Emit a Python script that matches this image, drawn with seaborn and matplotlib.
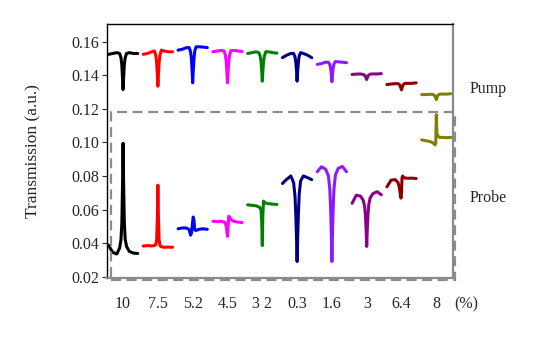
import pandas as pd
import matplotlib
matplotlib.use("Agg")
import matplotlib.pyplot as plt
import seaborn as sns
from matplotlib.patches import Rectangle

# Sample labels (%) under each spectrum, left to right
samples = ["10", "7.5", "5.2", "4.5", "3 2", "0.3", "1.6", "3", "6.4", "8"]
colors = ["#000000", "#ff0000", "#0000ff", "#ff00ff", "#008000",
          "#000080", "#8c1aff", "#8b008b", "#8b0000", "#808000"]

# Detuning axis of every spectrum (in units of sample spacing)
detuning = [-0.42, -0.3, -0.18, -0.1, -0.06, -0.035, -0.015, 0.0,
            0.015, 0.035, 0.06, 0.1, 0.18, 0.3, 0.42]

# Pump transmission, one row per sample
pump_traces = [
    [0.1525, 0.1530, 0.1535, 0.1530, 0.1505, 0.1460, 0.1380, 0.1315, 0.1380, 0.1460, 0.1505, 0.1530, 0.1535, 0.1530, 0.1530],  # 10
    [0.1525, 0.1530, 0.1540, 0.1545, 0.1520, 0.1475, 0.1400, 0.1335, 0.1400, 0.1475, 0.1520, 0.1550, 0.1545, 0.1540, 0.1540],  # 7.5
    [0.1550, 0.1555, 0.1565, 0.1565, 0.1540, 0.1495, 0.1420, 0.1355, 0.1420, 0.1495, 0.1545, 0.1570, 0.1570, 0.1568, 0.1565],  # 5.2
    [0.1540, 0.1545, 0.1548, 0.1545, 0.1520, 0.1480, 0.1410, 0.1355, 0.1410, 0.1480, 0.1520, 0.1548, 0.1548, 0.1545, 0.1542],  # 4.5
    [0.1530, 0.1535, 0.1540, 0.1535, 0.1515, 0.1480, 0.1420, 0.1365, 0.1420, 0.1480, 0.1515, 0.1540, 0.1540, 0.1535, 0.1532],  # 3 2
    [0.1505, 0.1520, 0.1530, 0.1530, 0.1510, 0.1475, 0.1420, 0.1365, 0.1420, 0.1475, 0.1515, 0.1535, 0.1530, 0.1520, 0.1505],  # 0.3
    [0.1465, 0.1470, 0.1478, 0.1478, 0.1465, 0.1440, 0.1400, 0.1362, 0.1400, 0.1440, 0.1468, 0.1482, 0.1480, 0.1478, 0.1475],  # 1.6
    [0.1405, 0.1407, 0.1408, 0.1405, 0.1400, 0.1392, 0.1382, 0.1375, 0.1385, 0.1395, 0.1402, 0.1407, 0.1408, 0.1408, 0.1410],  # 3
    [0.1345, 0.1348, 0.1350, 0.1350, 0.1345, 0.1335, 0.1322, 0.1313, 0.1325, 0.1338, 0.1346, 0.1352, 0.1352, 0.1352, 0.1355],  # 6.4
    [0.1285, 0.1285, 0.1287, 0.1285, 0.1282, 0.1275, 0.1263, 0.1255, 0.1265, 0.1278, 0.1283, 0.1288, 0.1288, 0.1288, 0.1290],  # 8
]

# Probe transmission, one row per sample
probe_traces = [
    [0.0388, 0.0345, 0.0335, 0.0370, 0.0420, 0.0520, 0.0750, 0.0995, 0.0760, 0.0530, 0.0425, 0.0380, 0.0350, 0.0340, 0.0338],  # 10
    [0.0382, 0.0385, 0.0383, 0.0385, 0.0390, 0.0420, 0.0550, 0.0745, 0.0560, 0.0420, 0.0385, 0.0378, 0.0375, 0.0376, 0.0375],  # 7.5
    [0.0485, 0.0490, 0.0490, 0.0480, 0.0447, 0.0460, 0.0500, 0.0530, 0.0555, 0.0540, 0.0478, 0.0475, 0.0482, 0.0485, 0.0482],  # 5.2
    [0.0530, 0.0528, 0.0530, 0.0525, 0.0520, 0.0500, 0.0465, 0.0440, 0.0480, 0.0560, 0.0555, 0.0540, 0.0530, 0.0525, 0.0522],  # 4.5
    [0.0628, 0.0625, 0.0622, 0.0615, 0.0610, 0.0595, 0.0520, 0.0385, 0.0560, 0.0650, 0.0645, 0.0638, 0.0635, 0.0632, 0.0630],  # 3 2
    [0.0755, 0.0780, 0.0800, 0.0760, 0.0680, 0.0560, 0.0420, 0.0290, 0.0420, 0.0560, 0.0690, 0.0770, 0.0800, 0.0790, 0.0778],  # 0.3
    [0.0825, 0.0855, 0.0840, 0.0800, 0.0720, 0.0600, 0.0440, 0.0290, 0.0440, 0.0600, 0.0725, 0.0805, 0.0845, 0.0857, 0.0825],  # 1.6
    [0.0637, 0.0685, 0.0680, 0.0655, 0.0620, 0.0560, 0.0470, 0.0380, 0.0475, 0.0565, 0.0630, 0.0670, 0.0695, 0.0706, 0.0688],  # 3
    [0.0735, 0.0775, 0.0778, 0.0760, 0.0730, 0.0690, 0.0668, 0.0700, 0.0790, 0.0800, 0.0790, 0.0788, 0.0786, 0.0787, 0.0785],  # 6.4
    [0.1015, 0.1010, 0.1005, 0.0998, 0.0990, 0.0985, 0.0995, 0.1165, 0.1060, 0.1040, 0.1035, 0.1030, 0.1030, 0.1028, 0.1030],  # 8
]

rows = []
for i, s in enumerate(samples):
    for beam, traces in (("pump", pump_traces), ("probe", probe_traces)):
        for d, t in zip(detuning, traces[i]):
            rows.append({"sample": s, "beam": beam, "x": i + d, "T": t})
df = pd.DataFrame(rows)

sns.set_style("ticks")
plt.rcParams["font.family"] = ["Liberation Serif", "DejaVu Serif"]

fig = plt.figure(figsize=(5.45, 3.37), dpi=100)
ax = fig.add_axes([0.1958, 0.1742, 0.6348, 0.7537])

sns.lineplot(data=df, x="x", y="T", hue="sample", units="beam", estimator=None,
             palette=dict(zip(samples, colors)), hue_order=samples,
             legend=False, linewidth=2.2, sort=False, ax=ax)

ax.set_xlim(-0.47, 9.47)
ax.set_ylim(0.019, 0.1704)
ax.set_yticks([0.02, 0.04, 0.06, 0.08, 0.10, 0.12, 0.14, 0.16])
ax.set_yticklabels([f"{v:.2f}" for v in ax.get_yticks()])
ax.set_xticks(range(len(samples)))
ax.set_xticklabels(samples)
ax.tick_params(axis="x", length=0, pad=13, labelsize=11.5)
ax.tick_params(axis="y", length=3.5, width=0.8, pad=2, labelsize=11.5, direction="out")
ax.set_xlabel("")
ax.set_ylabel("Transmission (a.u.)", fontsize=12.5, color="#222222")
ax.yaxis.set_label_coords(-0.188, 0.5)

for side in ("top", "left"):
    ax.spines[side].set_visible(True)
    ax.spines[side].set_color("black")
    ax.spines[side].set_linewidth(1.0)
for side in ("right", "bottom"):
    ax.spines[side].set_visible(True)
    ax.spines[side].set_color("#8a8a8a")
    ax.spines[side].set_linewidth(1.6)

# dashed frame around the probe spectra
box_x0, box_x1, box_y0, box_y1 = -0.345, 9.54, 0.0177, 0.118
ax.add_patch(Rectangle((box_x0, box_y0), box_x1 - box_x0, box_y1 - box_y0,
                       fill=False, edgecolor="#8c8c8c", linewidth=1.6,
                       linestyle=(0, (4.5, 2.5)), clip_on=False, zorder=5))

ax.text(9.97, 0.132, "Pump", fontsize=11.5, va="center", ha="left")
ax.text(9.97, 0.0668, "Probe", fontsize=11.5, va="center", ha="left")
ax.annotate("(%)", xy=(9.86, 0), xycoords=("data", "axes fraction"),
            xytext=(0, -13), textcoords="offset points",
            ha="center", va="top", fontsize=11.5, annotation_clip=False)

fig.savefig("out.png", dpi=100)
